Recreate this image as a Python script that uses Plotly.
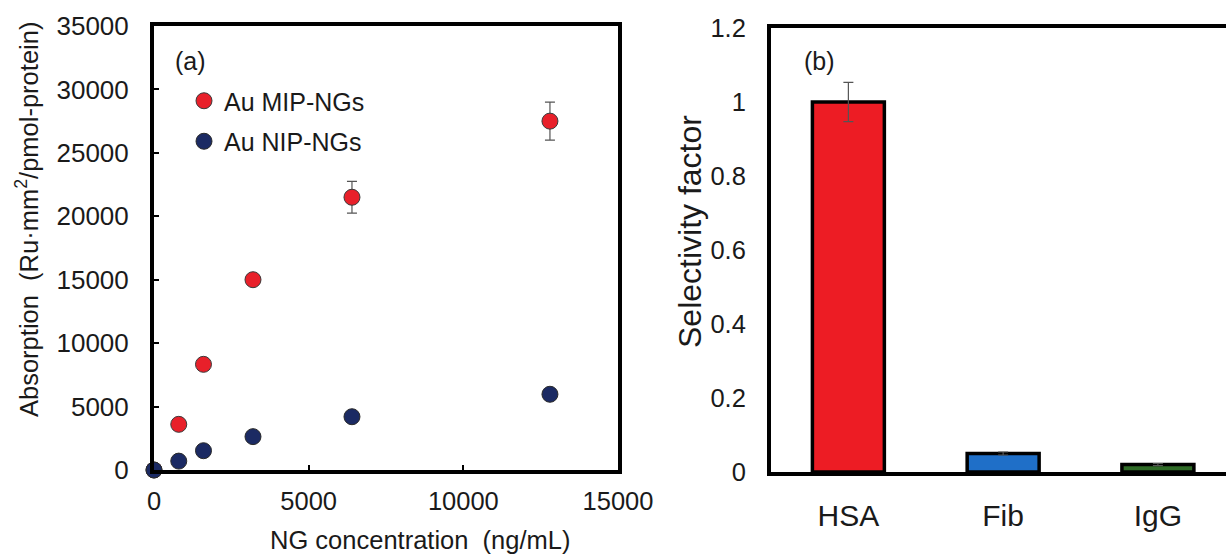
import plotly.graph_objects as go

# ---- data ----
conc = [0, 800, 1600, 3200, 6400, 12800]
mip_abs = [0, 3600, 8330, 15000, 21500, 27500]
mip_err = [0, 0, 0, 0, 1250, 1500]
nip_abs = [0, 700, 1520, 2630, 4200, 5970]

proteins = ["HSA", "Fib", "IgG"]
selectivity = [1.0, 0.05, 0.02]
sel_err = [0.053, 0.004, 0.003]
bar_colors = ["#ED1C24", "#1F6FC8", "#2F6B27"]

x_ticks_a = [0, 5000, 10000, 15000]
y_ticks_a = [0, 5000, 10000, 15000, 20000, 25000, 30000, 35000]
y_ticks_b = [0, 0.2, 0.4, 0.6, 0.8, 1.0, 1.2]
y_ticklabels_b = ["0", "0.2", "0.4", "0.6", "0.8", "1", "1.2"]

FONT = "Liberation Sans, Arial, sans-serif"
TXT = "#1a1a1a"
W, H = 1226, 554

fig = go.Figure()

fig.add_trace(go.Scatter(
    x=conc, y=mip_abs, mode="markers", name="Au MIP-NGs",
    marker=dict(size=16, color="#E8202A", line=dict(color="#3a3a3a", width=1)),
    error_y=dict(type="data", array=mip_err, visible=True, color="#555555",
                 thickness=1.2, width=5),
    cliponaxis=False, xaxis="x", yaxis="y", legendgroup="a",
))
fig.add_trace(go.Scatter(
    x=conc, y=nip_abs, mode="markers", name="Au NIP-NGs",
    marker=dict(size=16, color="#1B2A63", line=dict(color="#2a2a2a", width=1)),
    cliponaxis=False, xaxis="x", yaxis="y", legendgroup="b",
))

fig.add_trace(go.Bar(
    x=proteins, y=selectivity, width=0.465,
    marker=dict(color=bar_colors, line=dict(color="black", width=3.5)),
    error_y=dict(type="data", array=sel_err, visible=True, color="#555555",
                 thickness=1.2, width=5),
    showlegend=False, xaxis="x2", yaxis="y2",
))

# panel geometry in pixels
la_l, la_r, la_t, la_b = 154, 618, 26, 470
rb_l, rb_t, rb_b = 771, 28, 472


def tf(size):
    return dict(family=FONT, size=size, color=TXT)


def ann(text, px, py, size=25, angle=0):
    return dict(text=text, x=px / W, y=1 - py / H, xref="paper", yref="paper",
                xanchor="center", yanchor="middle", showarrow=False,
                textangle=angle, font=tf(size))


common = dict(showgrid=False, zeroline=False, automargin=False,
              linecolor="black", linewidth=4, showline=True)

fig.update_layout(
    template="none",
    width=W, height=H,
    margin=dict(l=0, r=0, t=0, b=0, pad=0),
    paper_bgcolor="white", plot_bgcolor="white",
    font=tf(25),
    showlegend=True,
    legend=dict(
        x=(205 - 21) / W, y=1 - 78 / H, xanchor="left", yanchor="top",
        bgcolor="rgba(0,0,0,0)", font=tf(25),
        tracegroupgap=5, itemwidth=30,
    ),
    xaxis=dict(
        domain=[la_l / W, la_r / W], range=[0, 15000],
        tickvals=x_ticks_a, ticktext=[str(v) for v in x_ticks_a],
        ticks="inside", ticklen=5, tickwidth=1.5, tickcolor="black",
        mirror=True, ticklabelstandoff=5, anchor="y", tickfont=tf(25.5), **common,
    ),
    yaxis=dict(
        domain=[1 - la_b / H, 1 - la_t / H], range=[0, 35000],
        tickvals=y_ticks_a, ticktext=[str(v) for v in y_ticks_a],
        ticks="inside", ticklen=5, tickwidth=1.5, tickcolor="black",
        mirror=True, ticklabelstandoff=16, anchor="x", tickfont=tf(26), **common,
    ),
    xaxis2=dict(
        domain=[rb_l / W, 1.0], range=[-0.5, 2.44],
        ticks="", mirror=True, ticklabelstandoff=14, anchor="y2",
        tickfont=tf(30), **common,
    ),
    yaxis2=dict(
        domain=[1 - rb_b / H, 1 - rb_t / H], range=[0, 1.2],
        tickvals=y_ticks_b, ticktext=y_ticklabels_b,
        ticks="", mirror=False, ticklabelstandoff=16, anchor="x2",
        tickfont=tf(25.5), **common,
    ),
    annotations=[
        ann("NG concentration  (ng/mL)", 420, 540, size=25.5),
        ann("Absorption  (Ru·mm<sup>2</sup>/pmol-protein)", 27, 220, size=25.5, angle=-90),
        ann("Selectivity factor", 690, 232, size=32, angle=-90),
        ann("(a)", 190, 61, size=25),
        ann("(b)", 820, 61, size=25),
    ],
)

fig.write_html(
    "out.html",
    config={"displayModeBar": False},
    post_script="document.body.style.margin='0';document.body.style.overflow='hidden';",
)
